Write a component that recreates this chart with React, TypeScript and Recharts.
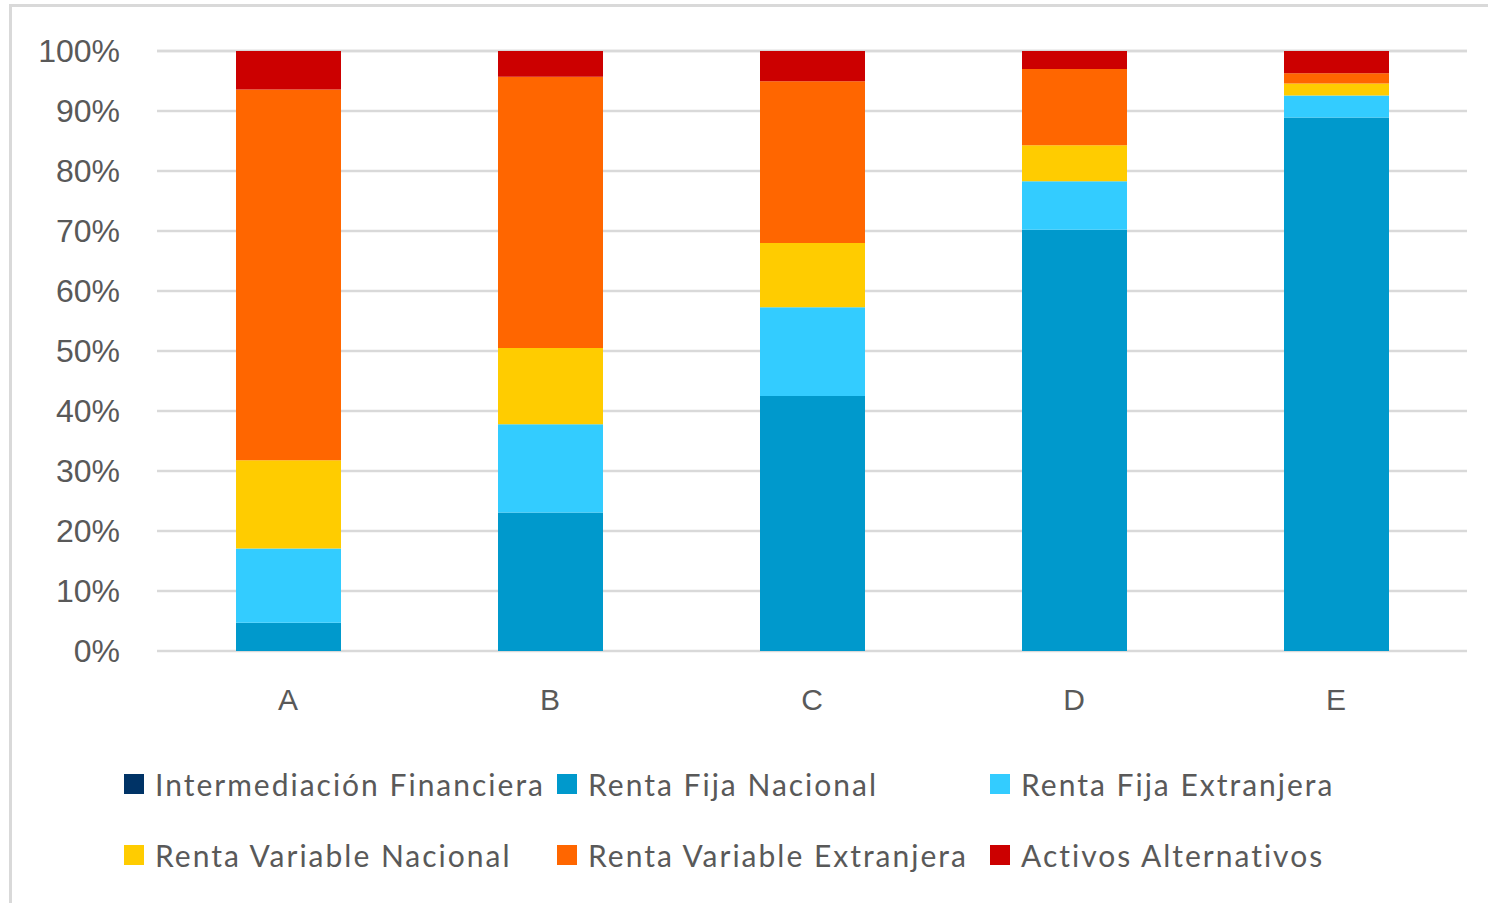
import { BarChart, Bar, XAxis, YAxis, CartesianGrid, Legend } from 'recharts';

const categories = ['A', 'B', 'C', 'D', 'E'];
const intermediacion = [0, 0, 0, 0, 0];
const rentaFijaNacional = [4.7, 23.1, 42.5, 70.2, 88.9];
const rentaFijaExtranjera = [12.4, 14.7, 14.8, 8.1, 3.7];
const rentaVariableNacional = [14.7, 12.7, 10.7, 6.0, 2.0];
const rentaVariableExtranjera = [61.8, 45.2, 26.95, 12.7, 1.7];
const activosAlternativos = [6.4, 4.3, 5.05, 3.0, 3.7];
const yTicks = [0, 10, 20, 30, 40, 50, 60, 70, 80, 90, 100];

const series = [
  { key: 'if', name: 'Intermediación Financiera', color: '#003366', values: intermediacion },
  { key: 'rfn', name: 'Renta Fija Nacional', color: '#0099cc', values: rentaFijaNacional },
  { key: 'rfe', name: 'Renta Fija Extranjera', color: '#33ccff', values: rentaFijaExtranjera },
  { key: 'rvn', name: 'Renta Variable Nacional', color: '#ffcc00', values: rentaVariableNacional },
  { key: 'rve', name: 'Renta Variable Extranjera', color: '#ff6600', values: rentaVariableExtranjera },
  { key: 'aa', name: 'Activos Alternativos', color: '#cc0000', values: activosAlternativos },
];

const data = categories.map((c, i) => {
  const row: Record<string, string | number> = { cat: c };
  series.forEach((s) => {
    row[s.key] = s.values[i];
  });
  return row;
});

const TEXT = '#595959';

function LegendGrid() {
  return (
    <div
      style={{
        position: 'relative',
        height: 178,
        fontFamily: 'Lato, sans-serif',
        fontSize: 30,
        letterSpacing: 2,
        color: TEXT,
      }}
    >
      {series.map((s, i) => {
        const col = i % 3;
        const row = Math.floor(i / 3);
        return (
          <div
            key={s.key}
            style={{
              position: 'absolute',
              left: 124 + col * 433,
              top: 73 + row * 71 - 20,
              height: 40,
              display: 'flex',
              alignItems: 'center',
              whiteSpace: 'nowrap',
            }}
          >
            <span
              style={{ width: 20, height: 20, background: s.color, display: 'inline-block', marginRight: 11 }}
            />
            <span>{s.name}</span>
          </div>
        );
      })}
    </div>
  );
}

export default function App() {
  return (
    <div>
      <div
        style={{
          position: 'absolute',
          left: 9,
          top: 4,
          width: 1600,
          height: 1000,
          border: '3px solid #d9d9d9',
          boxSizing: 'border-box',
        }}
      />
      <div style={{ position: 'absolute', left: 0, top: 0 }}>
        <BarChart
          width={1488}
          height={903}
          data={data}
          margin={{ top: 51, right: 21, left: 0, bottom: 14 }}
          barSize={105}
        >
          <CartesianGrid vertical={false} stroke="#d9d9d9" strokeWidth={2.5} />
          <XAxis
            dataKey="cat"
            axisLine={false}
            tickLine={false}
            tickSize={0}
            tickMargin={38}
            height={60}
            tick={{ fontSize: 30, fill: TEXT, fontFamily: 'Liberation Sans, Arial, sans-serif' }}
          />
          <YAxis
            domain={[0, 100]}
            ticks={yTicks}
            tickFormatter={(v) => `${v}%`}
            axisLine={false}
            tickLine={false}
            tickSize={0}
            tickMargin={37}
            width={157}
            tick={{ fontSize: 32, fill: TEXT, fontFamily: 'Liberation Sans, Arial, sans-serif' }}
          />
          <Legend verticalAlign="bottom" content={() => <LegendGrid />} />
          {series.map((s) => (
            <Bar
              key={s.key}
              dataKey={s.key}
              name={s.name}
              stackId="a"
              fill={s.color}
              isAnimationActive={false}
            />
          ))}
        </BarChart>
      </div>
    </div>
  );
}
